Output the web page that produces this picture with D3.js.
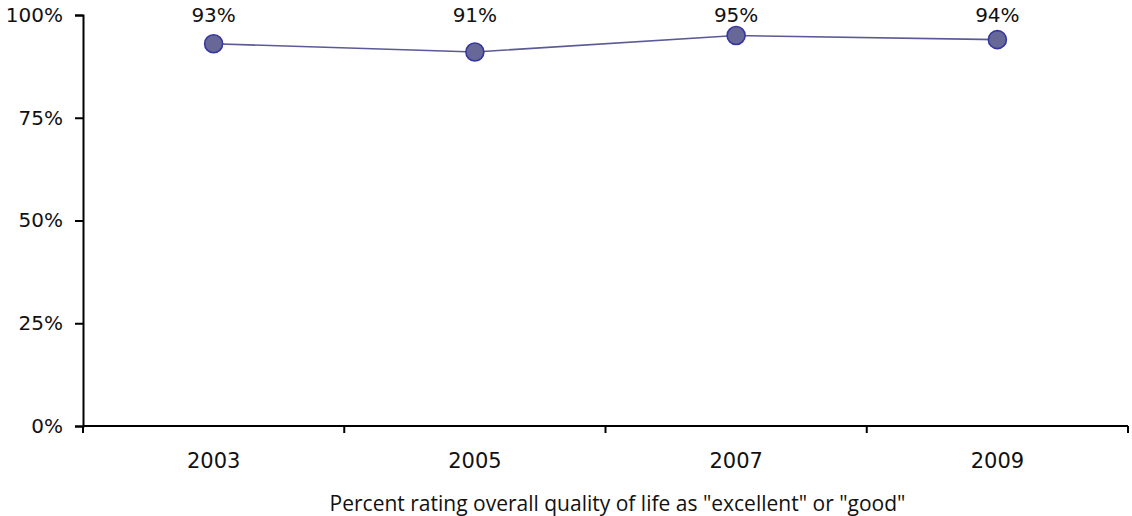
<!DOCTYPE html>
<html><head><meta charset="utf-8">
<script src="https://cdn.jsdelivr.net/npm/d3@7"></script>
<style>body{margin:0;background:#fff}svg{display:block}text{fill:#111}</style>
</head><body><svg id="c" width="1132" height="516"></svg>
<script>
const years = ["2003","2005","2007","2009"];
const values = [93,91,95,94];
const yTicks = [0,25,50,75,100];
const title = 'Percent rating overall quality of life as "excellent" or "good"';

const numFont = "DejaVu Sans, sans-serif";
const txtFont = "Open Sans, sans-serif";
const svg = d3.select("#c");
const m = {l:83, r:1128, t:15, b:426};
const x = d3.scaleBand().domain(years).range([m.l, m.r]);
const y = d3.scaleLinear().domain([0,100]).range([m.b, m.t]);

// y axis
const ya = svg.append("g").attr("transform",`translate(${m.l},0)`)
  .call(d3.axisLeft(y).tickValues(yTicks).tickFormat(d=>d+"%").tickSize(8).tickPadding(12));
ya.select(".domain").attr("stroke","#000").attr("stroke-width",2);
ya.selectAll(".tick line").attr("stroke","#000").attr("stroke-width",2);
ya.selectAll(".tick text").attr("font-size",20).attr("font-family",numFont).attr("fill","#1a1a1a");

// x axis with ticks at band boundaries
const xa = svg.append("g").attr("transform",`translate(0,${m.b})`)
  .call(d3.axisBottom(x).tickSize(0).tickPadding(27));
xa.select(".domain").attr("stroke","#000").attr("stroke-width",2).attr("d",`M${m.l},0H${m.r}`);
xa.selectAll(".tick text").attr("font-size",21).attr("font-family",numFont).attr("fill","#1a1a1a");
const bounds = years.map(d=>x(d)).concat([x(years[years.length-1])+x.bandwidth()]);
xa.selectAll("line.bt").data(bounds).enter().append("line").attr("class","bt")
  .attr("x1",d=>d).attr("x2",d=>d).attr("y1",0).attr("y2",7).attr("stroke","#000").attr("stroke-width",2);

// line
const cx = d=>x(d)+x.bandwidth()/2;
svg.append("path").datum(values.map((v,i)=>[years[i],v]))
  .attr("fill","none").attr("stroke","#5a5a96").attr("stroke-width",1.6)
  .attr("d", d3.line().x(d=>cx(d[0])).y(d=>y(d[1])));
svg.selectAll("circle.pt").data(values).enter().append("circle")
  .attr("cx",(d,i)=>cx(years[i])).attr("cy",d=>y(d)).attr("r",9)
  .attr("fill","#686898").attr("stroke","#3636a0").attr("stroke-width",1.6);
svg.selectAll("text.lbl").data(values).enter().append("text")
  .attr("x",(d,i)=>cx(years[i])).attr("y",22).attr("text-anchor","middle")
  .attr("font-family",numFont).attr("font-size",20).attr("fill","#1a1a1a").text(d=>d+"%");

svg.append("text").attr("x",(m.l+m.r)/2+12).attr("y",511).attr("text-anchor","middle")
  .attr("font-family",txtFont).attr("font-size",21).attr("fill","#1a1a1a").text(title);
</script></body></html>
